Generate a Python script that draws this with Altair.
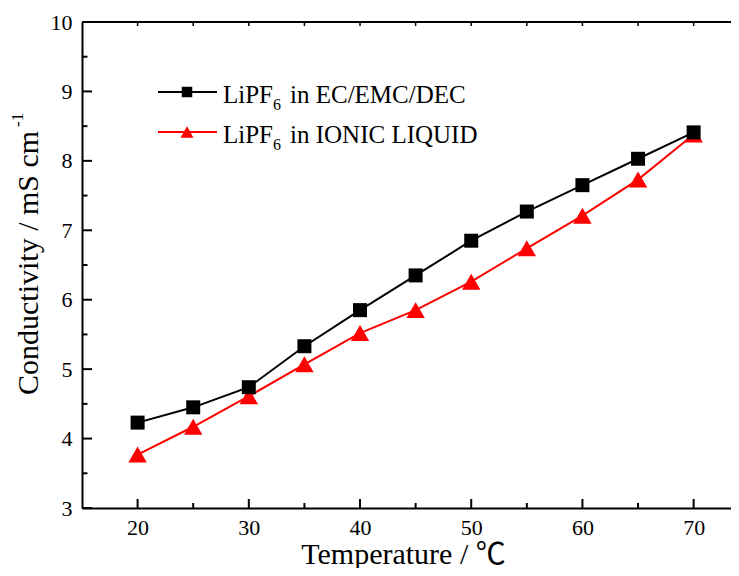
import altair as alt
import pandas as pd

# ---- data ----
temperature = [20, 25, 30, 35, 40, 45, 50, 55, 60, 65, 70]
ec_emc_dec = [4.23, 4.45, 4.74, 5.33, 5.85, 6.35, 6.85, 7.27, 7.65, 8.03, 8.41]
ionic_liquid = [3.77, 4.17, 4.61, 5.07, 5.52, 5.85, 6.26, 6.74, 7.21, 7.73, 8.38]

x_major = [20, 30, 40, 50, 60, 70]
x_minor = [25, 35, 45, 55, 65]
y_major = [3, 4, 5, 6, 7, 8, 9, 10]
y_minor = [3.5, 4.5, 5.5, 6.5, 7.5, 8.5, 9.5]

FONT = "Liberation Serif"
TFONT = "Liberation Serif, 'Noto Sans CJK SC'"
W, H = 649, 486

df_black = pd.DataFrame({"T": temperature, "v": ec_emc_dec})
df_red = pd.DataFrame({"T": temperature, "v": ionic_liquid})
df_xmaj = pd.DataFrame({"T": x_major})
df_xmin = pd.DataFrame({"T": x_minor})
df_xall = pd.DataFrame({"T": x_major + x_minor})
df_ymaj = pd.DataFrame({"v": y_major})
df_ymin = pd.DataFrame({"v": y_minor})
one = pd.DataFrame({"a": [0]})

xs = alt.Scale(domain=[15, 73.36], nice=False, zero=False)
ys = alt.Scale(domain=[3, 10], nice=False, zero=False)

xaxis = alt.Axis(values=x_major, tickSize=0, grid=False, labelFont=FONT,
                 labelFontSize=22, labelColor="black", labelPadding=9,
                 domainColor="black", domainWidth=2,
                 title="Temperature / ℃", titleFont=TFONT, titleFontSize=30,
                 titleFontWeight="normal", titleColor="black",
                 titleX=321, titleY=55, titleBaseline="alphabetic",
                 titleAlign="center")
yaxis = alt.Axis(values=y_major, tickSize=0, grid=False, labelFont=FONT,
                 labelFontSize=22, labelColor="black", labelPadding=10,
                 domainColor="black", domainWidth=2, title=None)

X = alt.X("T:Q", scale=xs, axis=xaxis)
Y = alt.Y("v:Q", scale=ys, axis=yaxis)

red_line = alt.Chart(df_red).mark_line(color="#ff0000", strokeWidth=2).encode(x=X, y=Y)
red_pts = alt.Chart(df_red).mark_point(shape="triangle-up", filled=True, color="#ff0000",
                                       size=340, opacity=1).encode(x=X, y=Y)
blk_line = alt.Chart(df_black).mark_line(color="black", strokeWidth=2).encode(x=X, y=Y)
blk_pts = alt.Chart(df_black).mark_point(shape="square", filled=True, color="black",
                                         size=196, opacity=1).encode(x=X, y=Y)

# inward ticks
xt_maj = alt.Chart(df_xmaj).mark_rule(color="black", strokeWidth=2).encode(
    x=X, y=alt.value(H), y2=alt.value(H - 9))
xt_min = alt.Chart(df_xmin).mark_rule(color="black", strokeWidth=2).encode(
    x=X, y=alt.value(H), y2=alt.value(H - 5))
xt_top = alt.Chart(df_xall).mark_rule(color="black", strokeWidth=1.5).encode(
    x=X, y=alt.value(0), y2=alt.value(4))
yt_maj = alt.Chart(df_ymaj).mark_rule(color="black", strokeWidth=2).encode(
    y=Y, x=alt.value(0), x2=alt.value(10))
yt_min = alt.Chart(df_ymin).mark_rule(color="black", strokeWidth=2).encode(
    y=Y, x=alt.value(0), x2=alt.value(5.5))
top_line = alt.Chart(one).mark_rule(color="black", strokeWidth=2).encode(
    x=alt.value(0), x2=alt.value(W), y=alt.value(0))

# y title with superscript
ytitle = alt.Chart(one).mark_text(angle=270, align="left", baseline="alphabetic",
                                  font=FONT, fontSize=30, color="black").encode(
    x=alt.value(-44), y=alt.value(373), text=alt.value("Conductivity / mS cm"))
ysup = alt.Chart(one).mark_text(angle=270, align="left", baseline="alphabetic",
                                font=FONT, fontSize=17, color="black").encode(
    x=alt.value(-59), y=alt.value(105), text=alt.value("-1"))

# manual legend
def legend_row(y_line, color, shape, size, label_rest):
    ln = alt.Chart(one).mark_rule(color=color, strokeWidth=2).encode(
        x=alt.value(76), x2=alt.value(135), y=alt.value(y_line))
    sym = alt.Chart(one).mark_point(shape=shape, filled=True, color=color,
                                    size=size, opacity=1).encode(
        x=alt.value(105), y=alt.value(y_line))
    t1 = alt.Chart(one).mark_text(align="left", baseline="alphabetic", font=FONT,
                                  fontSize=25, color="black").encode(
        x=alt.value(141), y=alt.value(y_line + 11), text=alt.value("LiPF"))
    t2 = alt.Chart(one).mark_text(align="left", baseline="alphabetic", font=FONT,
                                  fontSize=16, color="black").encode(
        x=alt.value(191), y=alt.value(y_line + 18), text=alt.value("6"))
    t3 = alt.Chart(one).mark_text(align="left", baseline="alphabetic", font=FONT,
                                  fontSize=25, color="black").encode(
        x=alt.value(208), y=alt.value(y_line + 11), text=alt.value(label_rest))
    return [ln, sym, t1, t2, t3]

leg = legend_row(70, "black", "square", 110, "in EC/EMC/DEC") + \
      legend_row(110, "#ff0000", "triangle-up", 170, "in IONIC LIQUID")

chart = alt.layer(
    red_line, red_pts, blk_line, blk_pts,
    xt_maj, xt_min, xt_top, yt_maj, yt_min, top_line,
    ytitle, ysup, *leg
).properties(
    width=W, height=H,
    autosize=alt.AutoSizeParams(type="none"),
    padding={"left": 74, "top": 14, "right": 0, "bottom": 60},
    background="white",
).configure_view(stroke=None).configure_axis(
    labelFont=FONT, titleFont=TFONT
)

chart.save("out.html", embed_options={"renderer": "svg", "actions": False})
